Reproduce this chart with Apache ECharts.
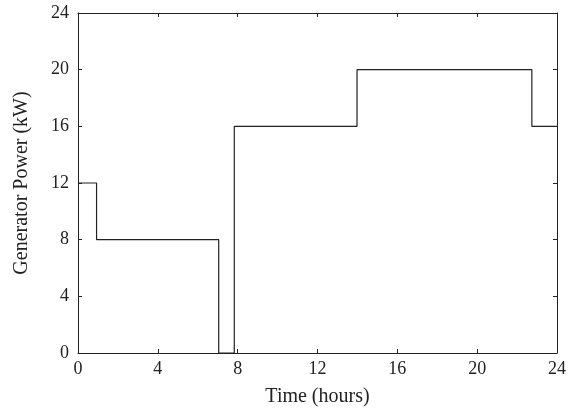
<!DOCTYPE html>
<html>
<head>
<meta charset="utf-8">
<script src="https://cdn.jsdelivr.net/npm/echarts@6/dist/echarts.min.js"></script>
<style>
  html, body { margin: 0; padding: 0; background: #fff; }
  #chart { width: 569px; height: 412px; }
</style>
</head>
<body>
<div id="chart"></div>
<script>
// Generator output schedule over one day: time (hours) at which each level starts
const stepTimes = [0, 0.93, 7.05, 7.83, 13.98, 22.74, 24];
const powerKW   = [12, 8, 0, 16, 20, 16, 16];
const tickValues = [0, 4, 8, 12, 16, 20, 24];

const points = stepTimes.map((t, i) => [t, powerKW[i]]);

const font = 'Liberation Serif, Times New Roman, serif';
const ink = '#222';

function baseAxis(extra) {
  return Object.assign({
    type: 'value',
    min: tickValues[0],
    max: tickValues[tickValues.length - 1],
    interval: tickValues[1] - tickValues[0],
    axisLine: { show: true, onZero: false, lineStyle: { color: ink, width: 1 } },
    axisTick: { show: true, inside: true, length: 4, lineStyle: { color: ink, width: 1 } },
    splitLine: { show: false },
    axisLabel: { color: ink, fontFamily: font, fontSize: 18 }
  }, extra);
}

const chart = echarts.init(document.getElementById('chart'), null, { renderer: 'canvas' });
chart.setOption({
  animation: false,
  backgroundColor: '#fff',
  grid: { left: 78, right: 7, top: 13, bottom: 59, containLabel: false },
  xAxis: [
    baseAxis({
      position: 'bottom',
      name: 'Time (hours)',
      nameLocation: 'middle',
      nameGap: 34,
      nameTextStyle: { color: ink, fontFamily: font, fontSize: 20 },
      axisLabel: { color: ink, fontFamily: font, fontSize: 18, margin: 7 }
    }),
    baseAxis({ position: 'top', axisLabel: { show: false } })
  ],
  yAxis: [
    baseAxis({
      position: 'left',
      name: 'Generator Power (kW)',
      nameLocation: 'middle',
      nameGap: 46,
      nameTextStyle: { color: ink, fontFamily: font, fontSize: 20 },
      axisLabel: { color: ink, fontFamily: font, fontSize: 18, margin: 9 }
    }),
    baseAxis({ position: 'right', axisLabel: { show: false } })
  ],
  series: [{
    type: 'line',
    step: 'end',
    data: points,
    showSymbol: false,
    lineStyle: { color: ink, width: 1.2 },
    xAxisIndex: 0,
    yAxisIndex: 0
  }]
});
</script>
</body>
</html>
